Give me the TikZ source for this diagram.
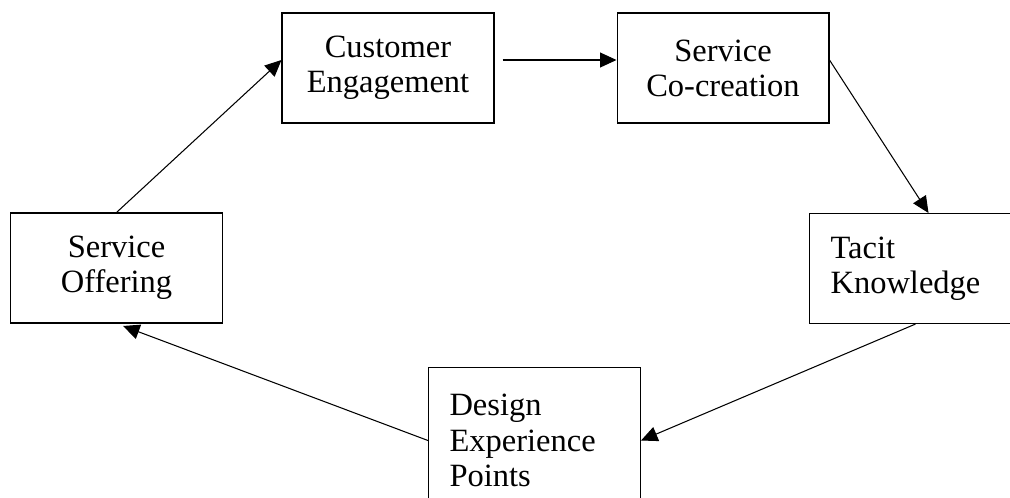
\documentclass[tikz,border=0pt]{standalone}
\usepackage{fontspec}
\setmainfont{Liberation Serif}
\usetikzlibrary{positioning}
\usetikzlibrary{arrows.meta}

\tikzset{
 stage/.style={draw,line width=0.6pt,minimum width=4.24cm,minimum height=2.2cm,align=center,inner sep=0pt,font=\fontsize{18.5}{20}\selectfont},
 leftstage/.style={stage,align=left,text width=3.4cm,inner xsep=0.42cm,anchor=north west},
 flow/.style={line width=0.6pt,-{Triangle[length=3.3mm,width=3mm]}}
}

\begin{document}
\begin{tikzpicture}[x=0.02cm,y=-0.02cm]
 \useasboundingbox (0,0) rectangle (1010,497);
 \clip (0,0) rectangle (1010,497);
 \node[stage] (engage) at (388,68) {Customer\\Engagement};
 \node[stage] (cocreate) at (723,68) {Service\\Co-creation};
 \node[stage] (offer) at (116.5,268) {Service\\Offering};
 \node[leftstage] (tacit) at (809,213) {Tacit\\Knowledge};
 \node[leftstage,minimum height=2.92cm] (design) at (428,367) {Design\\Experience\\Points};
 \draw[flow,shorten <=0.16cm] ([yshift=0.16cm]engage.east) -- ([yshift=0.16cm]cocreate.west);
 \draw[flow] ([yshift=0.16cm]cocreate.east) -- ([xshift=0.26cm]tacit.north);
 \draw[flow] (tacit.south) -- (design.east);
 \draw[flow,shorten >=0.14cm] (design.west) -- (offer.south);
 \draw[flow] (offer.north) -- ([yshift=0.16cm]engage.west);
\end{tikzpicture}
\end{document}
